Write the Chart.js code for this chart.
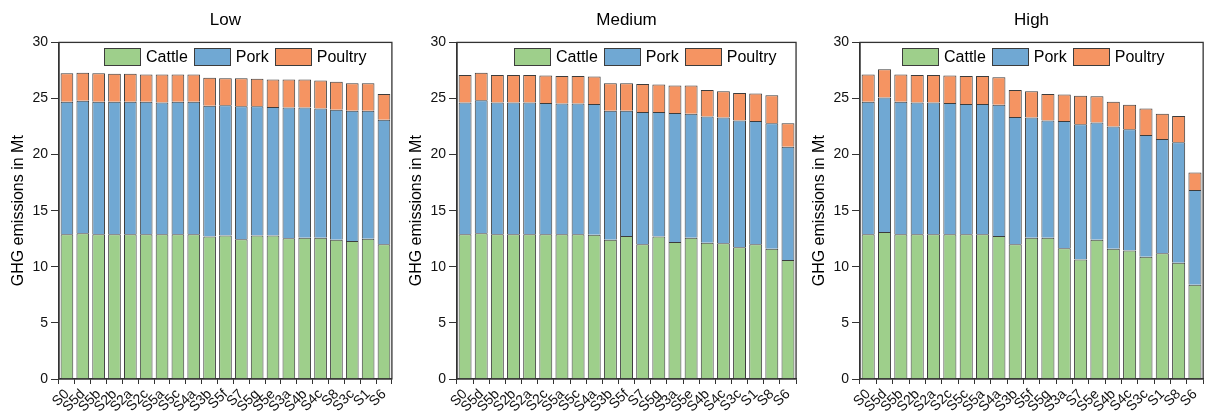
<!DOCTYPE html>
<html>
<head>
<meta charset="utf-8">
<script src="https://cdn.jsdelivr.net/npm/chart.js@4.4.0/dist/chart.umd.min.js"></script>
<style>
  body { margin: 0; background: #fff; width: 1209px; height: 419px; overflow: hidden; position: relative;
         font-family: "Liberation Sans", Arial, sans-serif; }
  .panel { position: absolute; top: 0; height: 419px; }
  .legend { position: absolute; top: 48px; display: flex; align-items: center; white-space: nowrap; }
  .legend .box { width: 35px; height: 16px; border: 1px solid #3c3c3c; box-sizing: content-box; }
  .legend .txt { font-size: 16px; line-height: 18px; color: #000; margin: 0 6px 0 5px; }
</style>
</head>
<body>
<div class="panel" style="left:0px;width:398px"><canvas id="low"></canvas></div>
<div class="panel" style="left:398px;width:404px"><canvas id="medium"></canvas></div>
<div class="panel" style="left:801px;width:408px"><canvas id="high"></canvas></div>
<div class="legend" id="legLow" style="left:104px"></div>
<div class="legend" id="legMedium" style="left:514px"></div>
<div class="legend" id="legHigh" style="left:902px"></div>
<script>
// scenario order per panel (sorted by total emissions)
var labelsLow = ['S0','S5d','S5b','S2b','S2a','S2c','S5a','S5c','S4a','S3b','S5f','S7','S5g','S5e','S3a','S4b','S4c','S8','S3c','S1','S6'];
var labelsMedium = ['S0','S5d','S5b','S2b','S2a','S2c','S5a','S5c','S4a','S3b','S5f','S7','S5g','S3a','S5e','S4b','S4c','S3c','S1','S8','S6'];
var labelsHigh = ['S0','S5d','S5b','S2b','S2a','S2c','S5c','S5a','S4a','S3b','S5f','S5g','S3a','S7','S5e','S4b','S4c','S3c','S1','S8','S6'];

// GHG emissions in Mt
var cattleLow = [12.9,13.0,12.9,12.9,12.9,12.9,12.9,12.9,12.9,12.7,12.8,12.45,12.8,12.8,12.55,12.6,12.6,12.4,12.3,12.5,12.0];
var porkLow = [11.8,11.8,11.8,11.8,11.8,11.8,11.75,11.8,11.8,11.65,11.6,11.85,11.5,11.45,11.65,11.6,11.5,11.6,11.6,11.4,11.1];
var poultryLow = [2.55,2.5,2.55,2.5,2.5,2.45,2.5,2.45,2.45,2.5,2.4,2.5,2.45,2.45,2.5,2.5,2.5,2.5,2.45,2.45,2.3];

var cattleMedium = [12.9,13.0,12.9,12.9,12.9,12.9,12.9,12.9,12.85,12.4,12.75,12.0,12.7,12.2,12.6,12.15,12.1,11.75,12.0,11.6,10.6];
var porkMedium = [11.75,11.85,11.75,11.75,11.75,11.7,11.65,11.65,11.65,11.5,11.15,11.8,11.1,11.5,11.05,11.25,11.2,11.3,11.0,11.2,10.1];
var poultryMedium = [2.45,2.45,2.45,2.45,2.45,2.45,2.45,2.45,2.45,2.45,2.45,2.5,2.45,2.45,2.5,2.35,2.35,2.45,2.45,2.5,2.1];

var cattleHigh = [12.9,13.1,12.9,12.9,12.9,12.9,12.9,12.9,12.75,12.0,12.6,12.6,11.65,10.65,12.4,11.6,11.45,10.9,11.2,10.35,8.4];
var porkHigh = [11.8,12.0,11.8,11.75,11.75,11.7,11.6,11.6,11.7,11.35,10.7,10.45,11.35,12.05,10.45,10.9,10.8,10.85,10.2,10.75,8.45];
var poultryHigh = [2.45,2.5,2.45,2.45,2.45,2.45,2.5,2.5,2.45,2.4,2.35,2.35,2.35,2.55,2.35,2.2,2.2,2.35,2.25,2.35,1.55];

Chart.defaults.font.family = '"Liberation Sans", Arial, sans-serif';
Chart.defaults.color = '#111';

// box around the plot area
var frame = {
  id: 'frame',
  afterDatasetsDraw: function(chart) {
    var a = chart.chartArea, ctx = chart.ctx;
    ctx.save();
    ctx.strokeStyle = '#333';
    ctx.lineWidth = 1.3;
    ctx.strokeRect(a.left, a.top, a.right - a.left, a.bottom - a.top);
    ctx.restore();
  }
};

// legend sits inside the plot, built from the datasets
function legendFor(chart, id) {
  var el = document.getElementById(id);
  chart.data.datasets.forEach(function(d) {
    var b = document.createElement('span');
    b.className = 'box';
    b.style.background = d.backgroundColor;
    var t = document.createElement('span');
    t.className = 'txt';
    t.textContent = d.label;
    el.appendChild(b);
    el.appendChild(t);
  });
}

function makeChart(id, title, labels, cattle, pork, poultry) {
  var ds = function(name, data, color) {
    return { label: name, data: data, backgroundColor: color, borderColor: '#3c3c3c', borderWidth: 1,
             barPercentage: 0.8, categoryPercentage: 1.0 };
  };
  return new Chart(document.getElementById(id).getContext('2d'), {
    type: 'bar',
    data: {
      labels: labels,
      datasets: [
        ds('Cattle', cattle, '#9ecf8b'),
        ds('Pork', pork, '#70a8d3'),
        ds('Poultry', poultry, '#f59462')
      ]
    },
    plugins: [frame],
    options: {
      responsive: true,
      maintainAspectRatio: false,
      animation: false,
      layout: { padding: { left: 0, right: 4, top: 0, bottom: 0 } },
      plugins: {
        title: { display: true, text: title, fullSize: false, color: '#000',
                 font: { size: 17, weight: 'normal' }, padding: { top: 10, bottom: 12 } },
        legend: { display: false },
        tooltip: { enabled: false }
      },
      scales: {
        x: {
          stacked: true,
          afterFit: function(s) { s.height = 40; },
          grid: { drawOnChartArea: false, tickLength: 5, color: '#333' },
          border: { color: '#333', width: 1.3 },
          ticks: { autoSkip: false, minRotation: 45, maxRotation: 45, padding: 2, color: '#111', font: { size: 14 } }
        },
        y: {
          stacked: true,
          min: 0, max: 30,
          afterFit: function(s) { s.width = 59; },
          grid: { drawOnChartArea: false, tickLength: 8, color: '#333' },
          border: { color: '#333', width: 1.3 },
          ticks: { stepSize: 5, padding: 3, color: '#111', font: { size: 14 } },
          title: { display: true, text: 'GHG emissions in Mt', color: '#000', font: { size: 16 }, padding: { top: 9, bottom: 4 } }
        }
      }
    }
  });
}

var lowChart = makeChart('low', 'Low', labelsLow, cattleLow, porkLow, poultryLow);
var mediumChart = makeChart('medium', 'Medium', labelsMedium, cattleMedium, porkMedium, poultryMedium);
var highChart = makeChart('high', 'High', labelsHigh, cattleHigh, porkHigh, poultryHigh);
legendFor(lowChart, 'legLow');
legendFor(mediumChart, 'legMedium');
legendFor(highChart, 'legHigh');
</script>
</body>
</html>
